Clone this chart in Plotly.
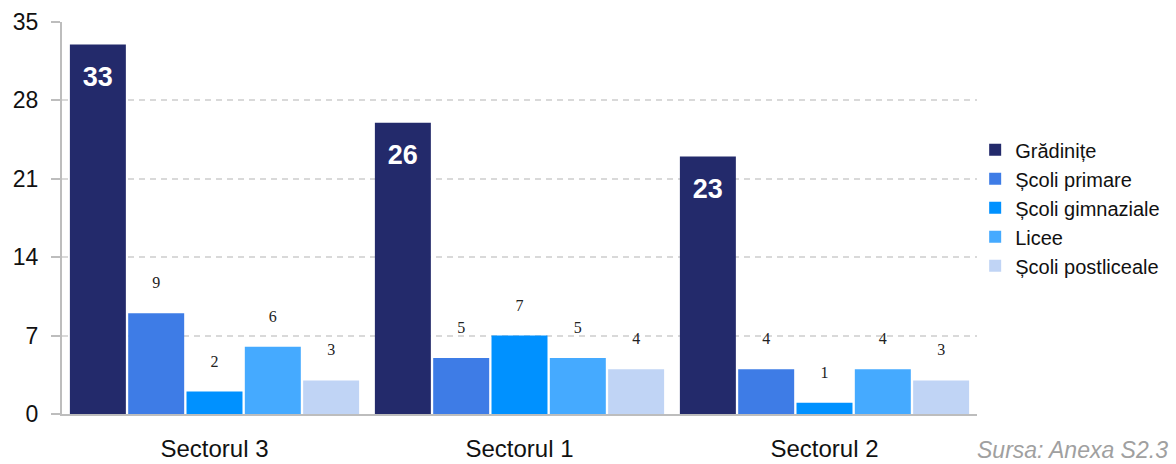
import plotly.graph_objects as go

categories = ["Sectorul 3", "Sectorul 1", "Sectorul 2"]
series_names = ["Grădinițe", "Școli primare", "Școli gimnaziale", "Licee", "Școli postliceale"]
gradinite = [33, 26, 23]
scoli_primare = [9, 5, 4]
scoli_gimnaziale = [2, 7, 1]
licee = [6, 5, 4]
scoli_postliceale = [3, 4, 3]
y_ticks = [0, 7, 14, 21, 28, 35]

series_values = [gradinite, scoli_primare, scoli_gimnaziale, licee, scoli_postliceale]
colors = ["#232A6B", "#3E7CE6", "#0091FF", "#45AAFF", "#C0D4F5"]

NARROW = "Liberation Sans Narrow, Arial Narrow, Liberation Sans, Arial, sans-serif"
SERIF = "Liberation Serif, Times New Roman, serif"

fig = go.Figure()
for i, (name, vals, col) in enumerate(zip(series_names, series_values, colors)):
    fig.add_trace(go.Bar(
        x=categories, y=vals, name=name, marker=dict(color=col, line=dict(width=0)),
        offsetgroup=str(i), hoverinfo="skip",
    ))

# value labels, grouped the same way as the bars
for i, (name, vals, col) in enumerate(zip(series_names, series_values, colors)):
    first = (i == 0)
    fig.add_trace(go.Scatter(
        x=categories, y=vals, mode="markers+text", text=[str(v) for v in vals],
        offsetgroup=str(i), showlegend=False, hoverinfo="skip",
        marker=dict(size=32 if first else 32, opacity=0),
        textposition="bottom center" if first else "top center",
        textfont=dict(family=NARROW if first else SERIF,
                      size=27 if first else 16,
                      color="white" if first else "#222222",
                      weight="bold" if first else "normal"),
        cliponaxis=False,
    ))

fig.update_layout(
    width=1176, height=464,
    margin=dict(l=62, r=199, t=22, b=50, autoexpand=False),
    paper_bgcolor="white", plot_bgcolor="white",
    barmode="group", bargap=0.044, bargroupgap=0.04,
    scattermode="group", scattergap=0.044,
    font=dict(family=NARROW, color="#111111"),
    legend=dict(x=0.998, xanchor="left", y=0.526, yanchor="middle",
                font=dict(family=NARROW, size=20, color="#111111"),
                itemwidth=30, traceorder="normal", bgcolor="rgba(0,0,0,0)"),
    xaxis=dict(showgrid=False, showline=True, linecolor="#BDBDBD", linewidth=2,
               ticks="", tickfont=dict(family=NARROW, size=24, color="#111111"),
               ticklabelstandoff=12, automargin=False),
    yaxis=dict(range=[0, 35], tickvals=y_ticks, showgrid=True, gridcolor="#D9D9D9",
               griddash="6px,5px", gridwidth=1.5, zeroline=False,
               showline=True, linecolor="#BDBDBD", linewidth=2,
               ticks="outside", ticklen=9, tickcolor="#BDBDBD", tickwidth=2,
               tickfont=dict(family=NARROW, size=23, color="#111111"),
               ticklabelstandoff=8, automargin=False),
    annotations=[dict(text="Sursa: Anexa S2.3", xref="paper", yref="paper",
                      x=1.211, y=-0.092, xanchor="right", yanchor="middle",
                      showarrow=False,
                      font=dict(family=NARROW, size=23, color="#A0A0A0", style="italic"))],
)

fig.write_html("out.html", config={"displayModeBar": False},
               post_script="document.body.style.margin='0px';document.body.style.padding='0px';document.body.style.overflow='hidden';")
